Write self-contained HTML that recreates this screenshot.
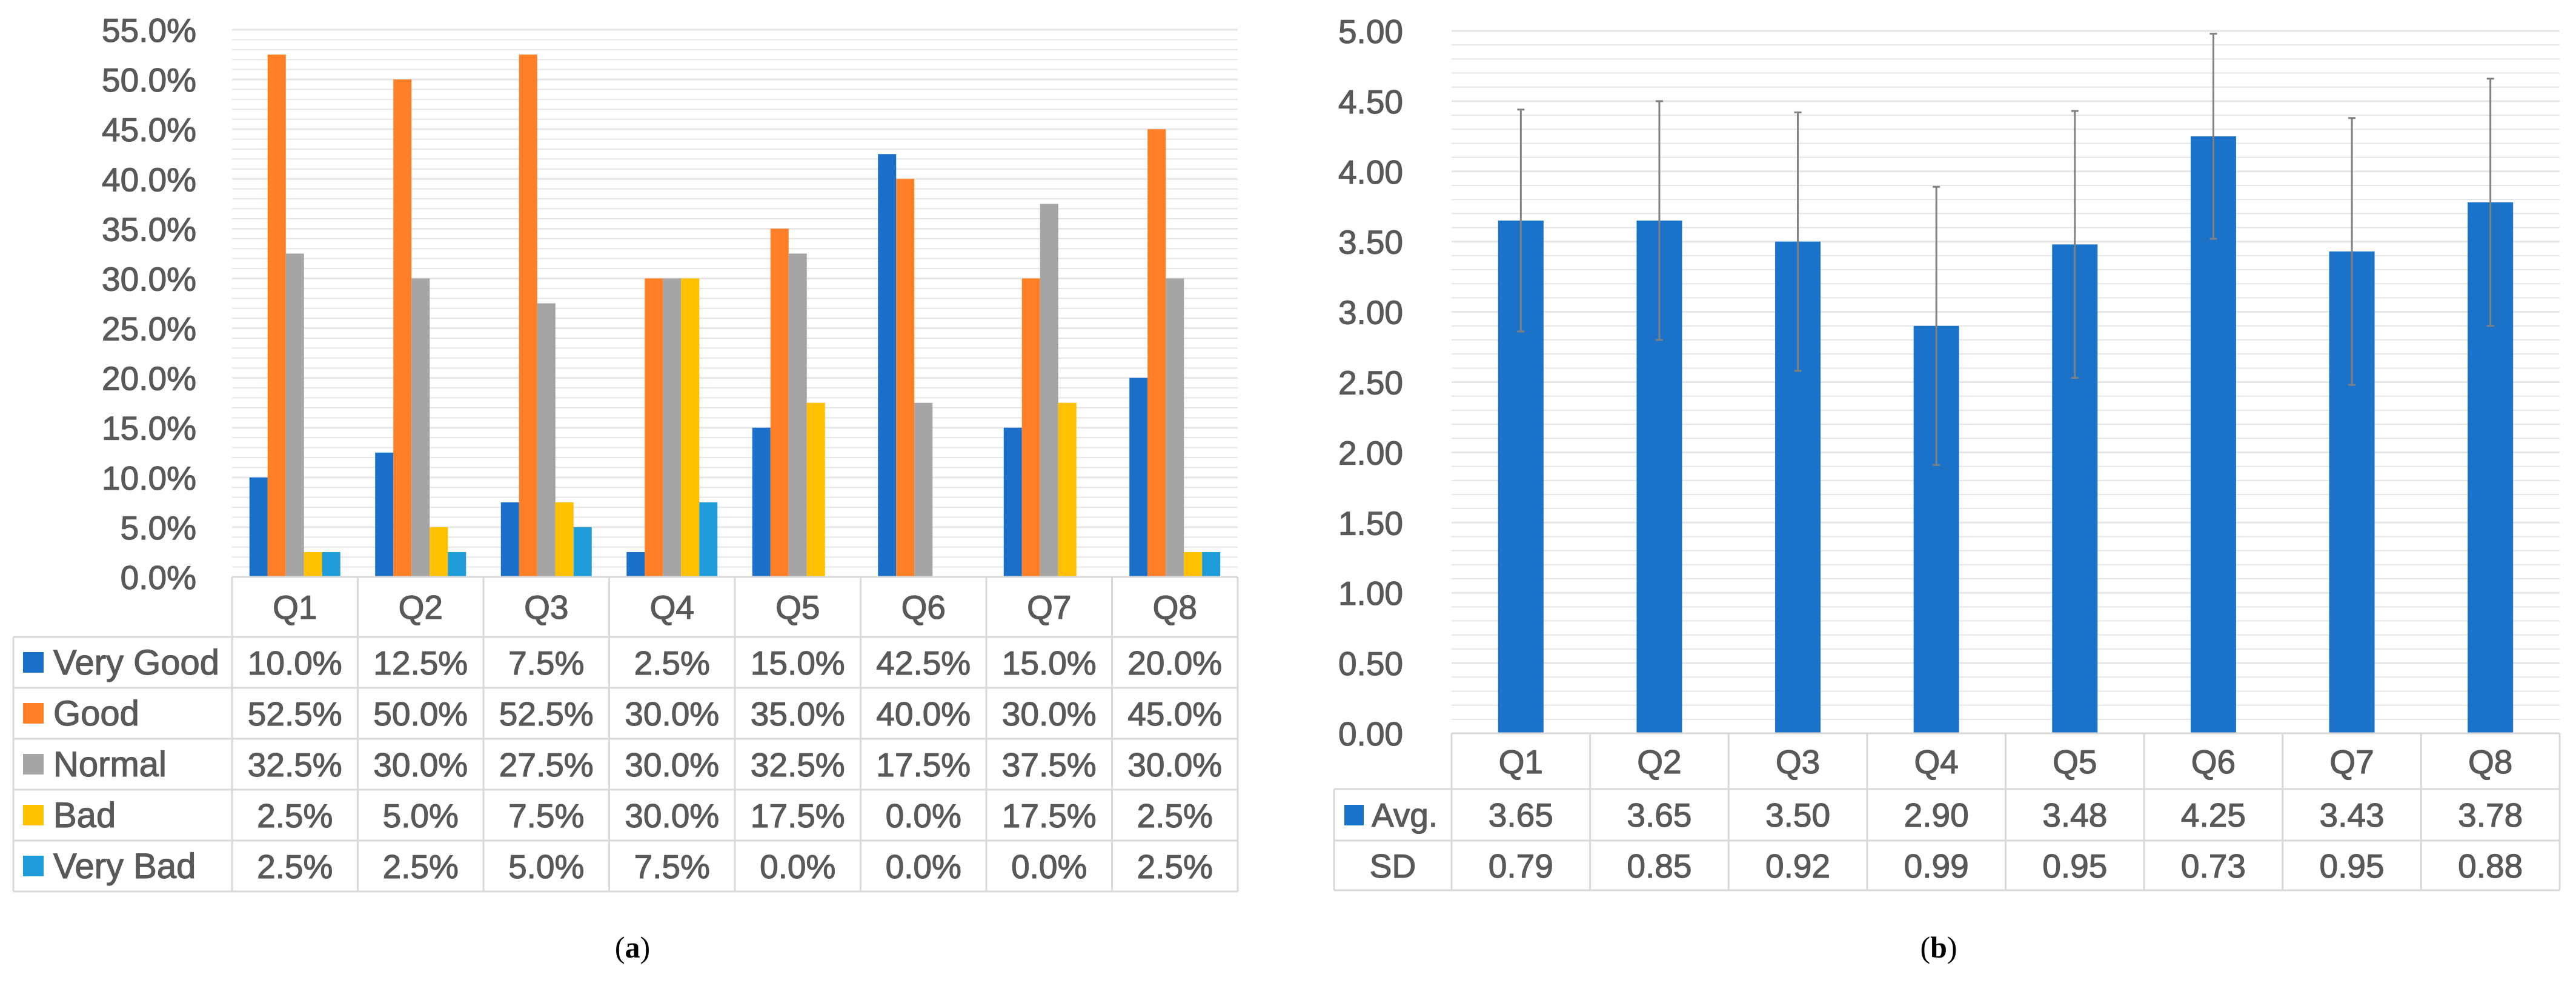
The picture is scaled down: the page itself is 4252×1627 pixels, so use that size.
<!DOCTYPE html>
<html><head><meta charset="utf-8">
<style>
html,body{margin:0;padding:0;background:#fff;}
svg{display:block;}
text{font-family:"Liberation Sans",sans-serif;fill:#595959;stroke:#595959;stroke-width:1.2;}
text.cap{stroke:none;}
</style></head>
<body>
<svg id="chart" width="4252" height="1627" viewBox="0 0 4252 1627" xmlns="http://www.w3.org/2000/svg">
<text class="cap" x="1044" y="1580" text-anchor="middle" font-size="50" style="font-family:'Liberation Serif',serif;fill:#000">(<tspan font-weight="bold">a</tspan>)</text>
<text class="cap" x="3200" y="1580" text-anchor="middle" font-size="50" style="font-family:'Liberation Serif',serif;fill:#000">(<tspan font-weight="bold">b</tspan>)</text>
</svg>
<script>
const categories = ["Q1","Q2","Q3","Q4","Q5","Q6","Q7","Q8"];
const seriesNames = ["Very Good","Good","Normal","Bad","Very Bad"];
const veryGood = [10,12.5,7.5,2.5,15,42.5,15,20];
const good = [52.5,50,52.5,30,35,40,30,45];
const normal = [32.5,30,27.5,30,32.5,17.5,37.5,30];
const bad = [2.5,5,7.5,30,17.5,0,17.5,2.5];
const veryBad = [2.5,2.5,5,7.5,0,0,0,2.5];
const leftTicks = [0,5,10,15,20,25,30,35,40,45,50,55];
const avgValues = [3.65,3.65,3.50,2.90,3.48,4.25,3.43,3.78];
const sdValues = [0.79,0.85,0.92,0.99,0.95,0.73,0.95,0.88];
const rightTicks = [0,0.5,1,1.5,2,2.5,3,3.5,4,4.5,5];

const svg = document.getElementById('chart');
const NS = 'http://www.w3.org/2000/svg';
function mk(tag, attrs, parent){
  const e = document.createElementNS(NS, tag);
  for (const k in attrs) e.setAttribute(k, attrs[k]);
  (parent||svg).appendChild(e);
  return e;
}
const colors = ["#1a6fc8","#ff7f27","#a5a5a5","#ffc000","#1f9ddb"];
const seriesData = [veryGood, good, normal, bad, veryBad];
const GRID = "#e6e6e6", BORDER = "#d9d9d9";
const FS = 55;

// ---------- LEFT CHART ----------
const L = {x0:383, x1:2043, yTop:49, yBot:952, max:55};
const ly = v => L.yBot - v/L.max*(L.yBot-L.yTop);
const lcw = (L.x1-L.x0)/categories.length;
const lx = i => L.x0 + i*lcw;
for (let v=1; v<=55; v++){
  const g = mk('line',{x1:L.x0,x2:L.x1,y1:ly(v),y2:ly(v),stroke:GRID,'stroke-width':v%5===0?3:2});
  
  
}
leftTicks.forEach(t=>{
  const e = mk('text',{x:324,y:ly(t)+20,'text-anchor':'end','font-size':FS});
  e.textContent = t.toFixed(1)+'%';
  
  
});
const bw = 30;
categories.forEach((c,i)=>{
  const gx = lx(i) + lcw/2 - bw*seriesData.length/2;
  seriesData.forEach((arr,s)=>{
    const v = arr[i];
    if (v<=0) return;
    const r = mk('rect',{x:gx+s*bw,y:ly(v),width:bw,height:L.yBot-ly(v),fill:colors[s]});
    
    
  });
});
// left table
const rowTop = [952,1051,1135,1219,1303,1387,1471];
const tl = 22;
function line(x1,y1,x2,y2,name){
  const e = mk('line',{x1,y1,x2,y2,stroke:BORDER,'stroke-width':3});
  
  
}
line(L.x0,952,L.x1,952,'left-x-axis');
for (let r=1;r<rowTop.length;r++) line(tl,rowTop[r],L.x1,rowTop[r],'left-table-row-line');
for (let i=0;i<=categories.length;i++) line(lx(i),952,lx(i),1471,'left-table-col-line');
line(tl,1051,tl,1471,'left-table-left-border');
categories.forEach((c,i)=>{
  const e = mk('text',{x:lx(i)+lcw/2,y:1021,'text-anchor':'middle','font-size':FS});
  e.textContent = c;
  
  
});
seriesNames.forEach((n,s)=>{
  const cy = (rowTop[s+1]+rowTop[s+2])/2;
  const m = mk('rect',{x:38,y:cy-17,width:34,height:34,fill:colors[s]});
  
  
  const t = mk('text',{x:88,y:cy+20,'font-size':FS+3});
  t.textContent = n;
  
  
  seriesData[s].forEach((v,i)=>{
    const e = mk('text',{x:lx(i)+lcw/2,y:cy+20,'text-anchor':'middle','font-size':FS});
    e.textContent = v.toFixed(1)+'%';
    
    
  });
});

// ---------- RIGHT CHART ----------
const R = {x0:2396, x1:4225, yTop:51, yBot:1210, max:5};
const ry = v => R.yBot - v/R.max*(R.yBot-R.yTop);
const rcw = (R.x1-R.x0)/categories.length;
const rx = i => R.x0 + i*rcw;
for (let k=1;k<=50;k++){
  const v = k/10;
  const g = mk('line',{x1:R.x0,x2:R.x1,y1:ry(v),y2:ry(v),stroke:GRID,'stroke-width':k%5===0?3:2});
  
  
}
rightTicks.forEach(t=>{
  const e = mk('text',{x:2316,y:ry(t)+20,'text-anchor':'end','font-size':FS});
  e.textContent = t.toFixed(2);
  
  
});
const rbw = 75;
categories.forEach((c,i)=>{
  const cx = rx(i)+rcw/2;
  const v = avgValues[i];
  const r = mk('rect',{x:cx-rbw/2,y:ry(v),width:rbw,height:R.yBot-ry(v),fill:"#1a72c9"});
  
  
  const hi = ry(v+sdValues[i]), lo = ry(v-sdValues[i]);
  const eb = mk('line',{x1:cx,x2:cx,y1:hi,y2:lo,stroke:"#808080",'stroke-width':3});
  
  
  [hi,lo].forEach(yy=>{
    const cp = mk('line',{x1:cx-6,x2:cx+6,y1:yy,y2:yy,stroke:"#808080",'stroke-width':3});
    
    
  });
});
const rtl = 2202;
line(R.x0,1210,R.x1,1210,'right-x-axis');
line(rtl,1302,R.x1,1302,'right-table-row-line');
line(rtl,1387,R.x1,1387,'right-table-row-line');
line(rtl,1469,R.x1,1469,'right-table-row-line');
line(rtl,1302,rtl,1469,'right-table-left-border');
for (let i=0;i<=categories.length;i++) line(rx(i),1210,rx(i),1469,'right-table-col-line');
categories.forEach((c,i)=>{
  const e = mk('text',{x:rx(i)+rcw/2,y:1276,'text-anchor':'middle','font-size':FS});
  e.textContent = c;
  
  
  const a = mk('text',{x:rx(i)+rcw/2,y:1364,'text-anchor':'middle','font-size':FS});
  a.textContent = avgValues[i].toFixed(2);
  
  
  const s = mk('text',{x:rx(i)+rcw/2,y:1448,'text-anchor':'middle','font-size':FS});
  s.textContent = sdValues[i].toFixed(2);
  
  
});
const am = mk('rect',{x:2219,y:1328,width:32,height:34,fill:"#1a72c9"});


const at = mk('text',{x:2264,y:1364,'font-size':FS});
at.textContent = 'Avg.';


const st = mk('text',{x:2299,y:1448,'text-anchor':'middle','font-size':FS});
st.textContent = 'SD';


</script>
</body></html>
